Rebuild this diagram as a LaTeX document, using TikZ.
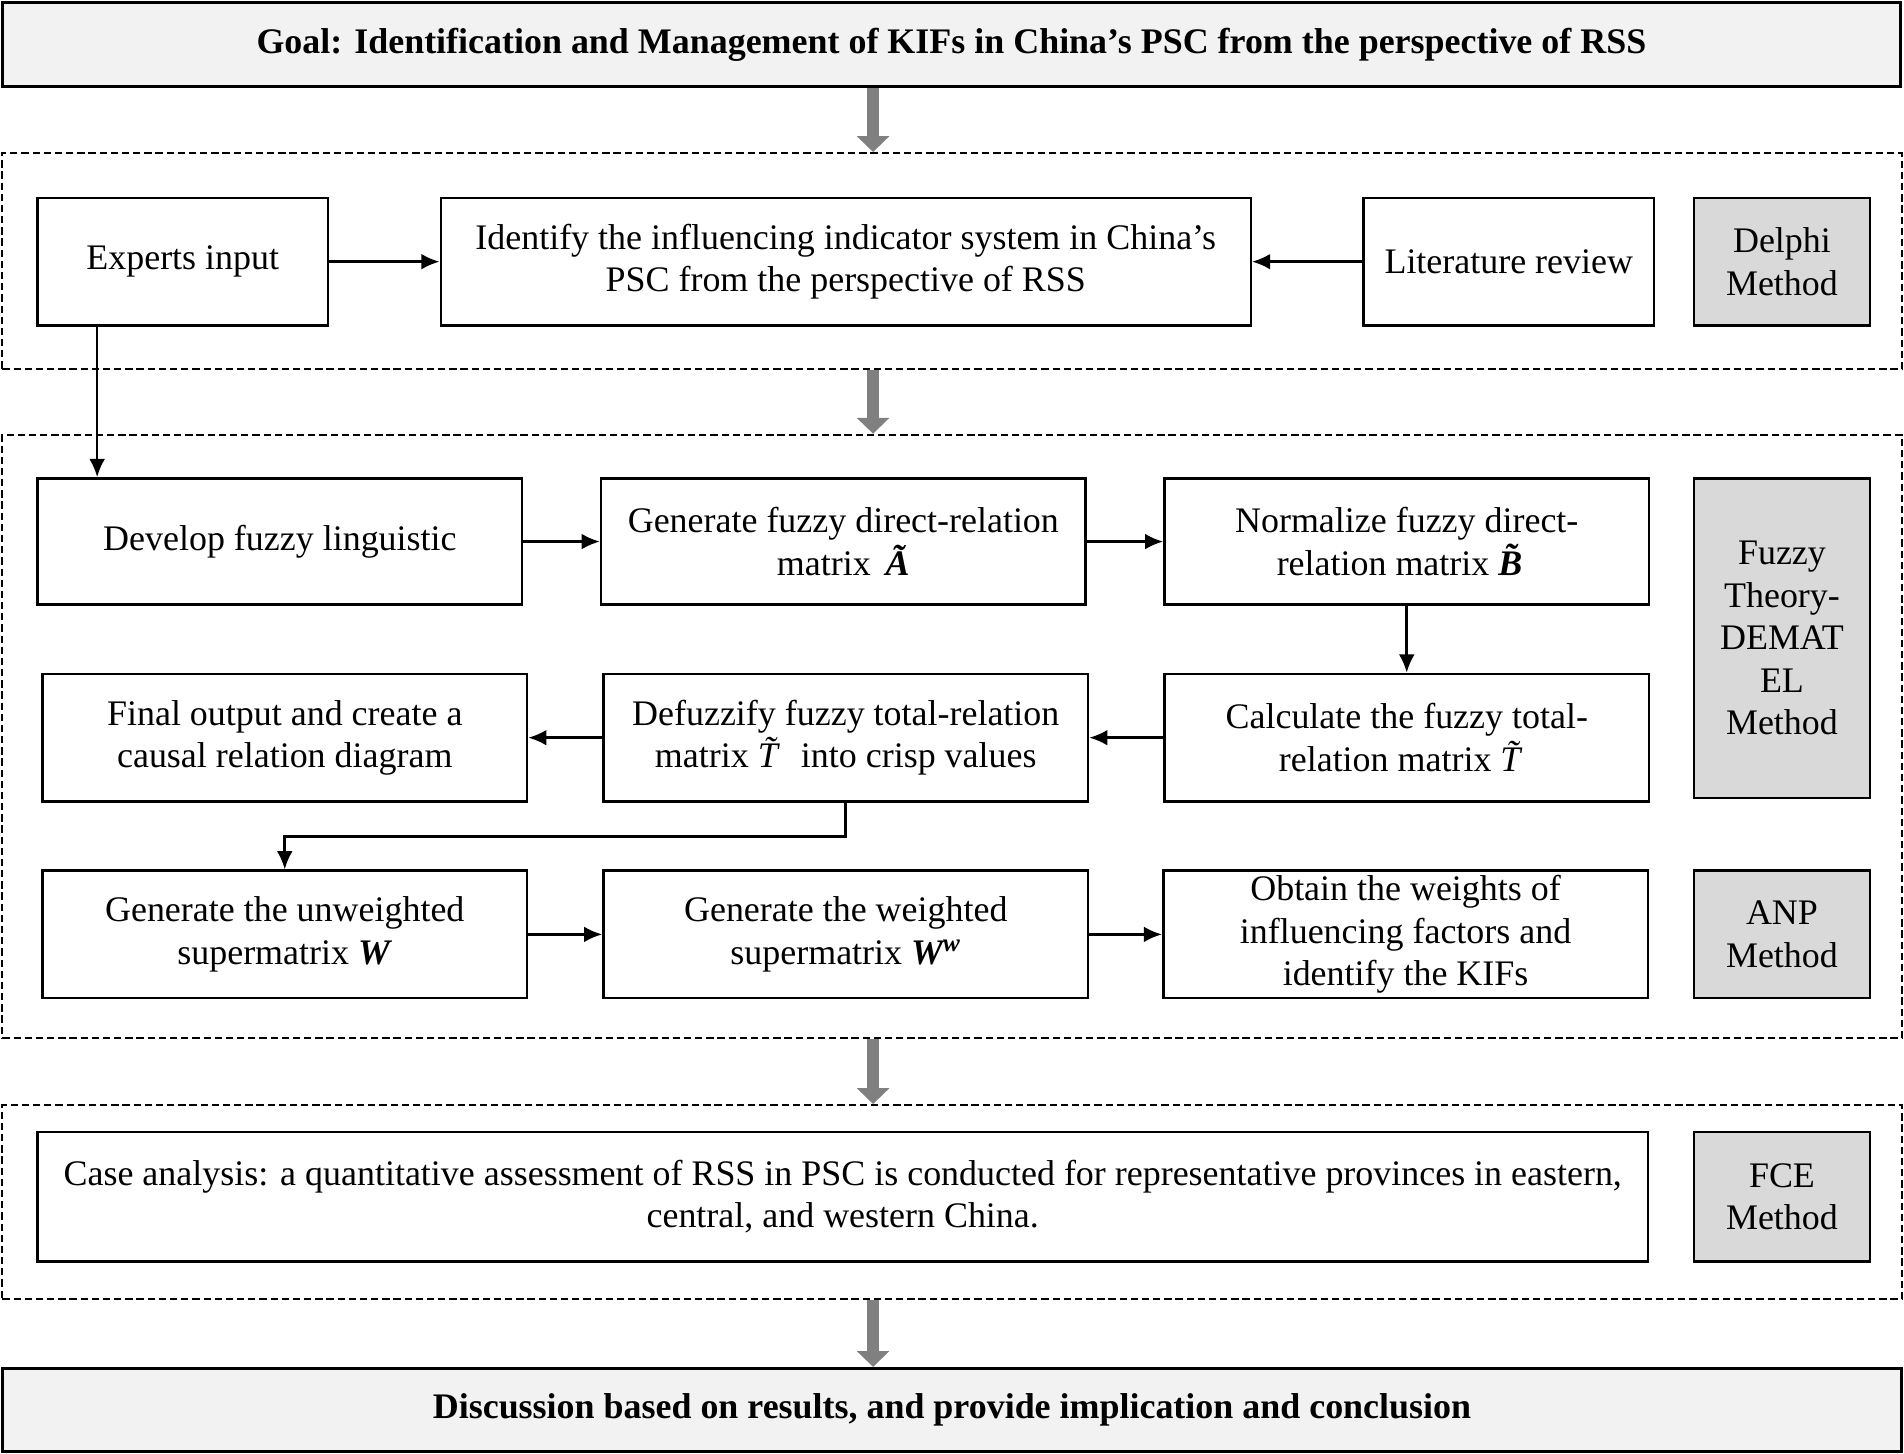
\documentclass[tikz,border=0pt]{standalone}
\usepackage{fontspec}
\setmainfont{Liberation Serif}
\usetikzlibrary{arrows.meta}
\definecolor{goalfill}{HTML}{F2F2F2}
\definecolor{methfill}{HTML}{D9D9D9}
\definecolor{bigarrow}{HTML}{808080}
\begin{document}
\begin{tikzpicture}[x=0.5pt,y=-0.5pt,
  txt/.style={font=\fontsize{14.8}{17.5}\selectfont, align=center, inner sep=0pt},
  box/.style={txt, draw, line width=1pt, rectangle},
  stdbox/.style={box, minimum width=199.5pt, minimum height=52.5pt},
  methbox/.style={box, fill=methfill, minimum width=72.5pt},
  goalbox/.style={draw, line width=1.3pt, fill=goalfill, inner sep=0pt, font=\fontsize{14.8}{17.5}\selectfont\bfseries, minimum width=781.5pt, minimum height=34.5pt},
  frame/.style={draw, dashed, dash pattern=on 3pt off 1.6pt, line width=0.8pt, minimum width=782pt, inner sep=0pt},
  conn/.style={line width=1.1pt, -{Latex[length=7.5pt,width=6.5pt]}},
  bigarr/.style={bigarrow, line width=5pt, -{Triangle[width=13pt,length=6.5pt]}}
]
\useasboundingbox (0,0) rectangle (1568,1197);

% goal
\node[goalbox] (goal) at (783.5,36.5) {Goal: Identification and Management of KIFs in China’s PSC from the perspective of RSS};

% frames
\node[frame, minimum height=89pt] (f1) at (784,215) {};
\node[frame, minimum height=248.5pt] (f2) at (784,606.5) {};
\node[frame, minimum height=80pt] (f3) at (784,990) {};

% row delphi
\node[box, minimum width=119.5pt, minimum height=52.5pt] (exp) at (150.5,215.5) {Experts input};
\node[box, minimum width=333.5pt, minimum height=52.5pt] (ident) at (696.5,215.5) {Identify the influencing indicator system in China’s\\PSC from the perspective of RSS};
\node[box, minimum width=119.5pt, minimum height=52.5pt] (lit) at (1242.5,215.5) {Literature review};
\node[methbox, minimum height=52.5pt] (delphi) at (1467.5,215.5) {Delphi\\Method};

% fuzzy DEMATEL rows
\node[stdbox, minimum height=52pt] (dev) at (230.5,446) {Develop fuzzy linguistic};
\node[stdbox, minimum height=52pt] (genA) at (694.5,446) {Generate fuzzy direct-relation\\matrix \,\textbf{\textit{\~A}}};
\node[stdbox, minimum height=52pt] (norm) at (1158.5,446) {Normalize fuzzy direct-\\relation matrix \textbf{\textit{\~B}}};
\node[methbox, minimum height=131.5pt] (fuzzy) at (1467.5,525.5) {Fuzzy\\Theory-\\DEMAT\\EL\\Method};

\node[stdbox] (final) at (234.5,607.5) {Final output and create a\\causal relation diagram};
\node[stdbox] (defuzz) at (696.5,607.5) {Defuzzify fuzzy total-relation\\matrix \textit{\~T} into crisp values};
\node[stdbox] (calc) at (1158.5,607.5) {Calculate the fuzzy total-\\relation matrix \textit{\~T}};

\node[stdbox] (unw) at (234.5,769.5) {Generate the unweighted\\supermatrix \textbf{\textit{W}}};
\node[stdbox] (wei) at (696.5,769.5) {Generate the weighted\\supermatrix \textbf{\textit{W\textsuperscript{w}}}};
\node[stdbox] (obt) at (1157.5,769.5) {Obtain the weights of\\influencing factors and\\identify the KIFs};
\node[methbox, minimum height=52.5pt] (anp) at (1467.5,769.5) {ANP\\Method};

% FCE
\node[box, minimum width=663pt, minimum height=53.5pt] (case) at (694,985.5) {Case analysis: a quantitative assessment of RSS in PSC is conducted for representative provinces in eastern,\\central, and western China.};
\node[methbox, minimum height=53.5pt] (fce) at (1467.5,985.5) {FCE\\Method};

% bottom
\node[goalbox, minimum width=782pt, minimum height=34pt] (disc) at (784,1161) {Discussion based on results, and provide implication and conclusion};

% coordinates
\coordinate (ax) at (719,0);
\coordinate (ex) at (80,0);

% big gray arrows
\draw[bigarr] (goal.south -| ax) -- (f1.north -| ax);
\draw[bigarr] (f1.south -| ax) -- (f2.north -| ax);
\draw[bigarr] (f2.south -| ax) -- (f3.north -| ax);
\draw[bigarr] (f3.south -| ax) -- (disc.north -| ax);

% connectors
\draw[conn] (exp) -- (ident);
\draw[conn] (lit) -- (ident);
\draw[conn] (exp.south -| ex) -- (dev.north -| ex);
\draw[conn] (dev) -- (genA);
\draw[conn] (genA) -- (norm);
\draw[conn] (norm) -- (calc);
\draw[conn] (calc) -- (defuzz);
\draw[conn] (defuzz) -- (final);
\draw[conn] (defuzz.south) -- ++(0,28) -| (unw.north);
\draw[conn] (unw) -- (wei);
\draw[conn] (wei) -- (obt);
\end{tikzpicture}
\end{document}
